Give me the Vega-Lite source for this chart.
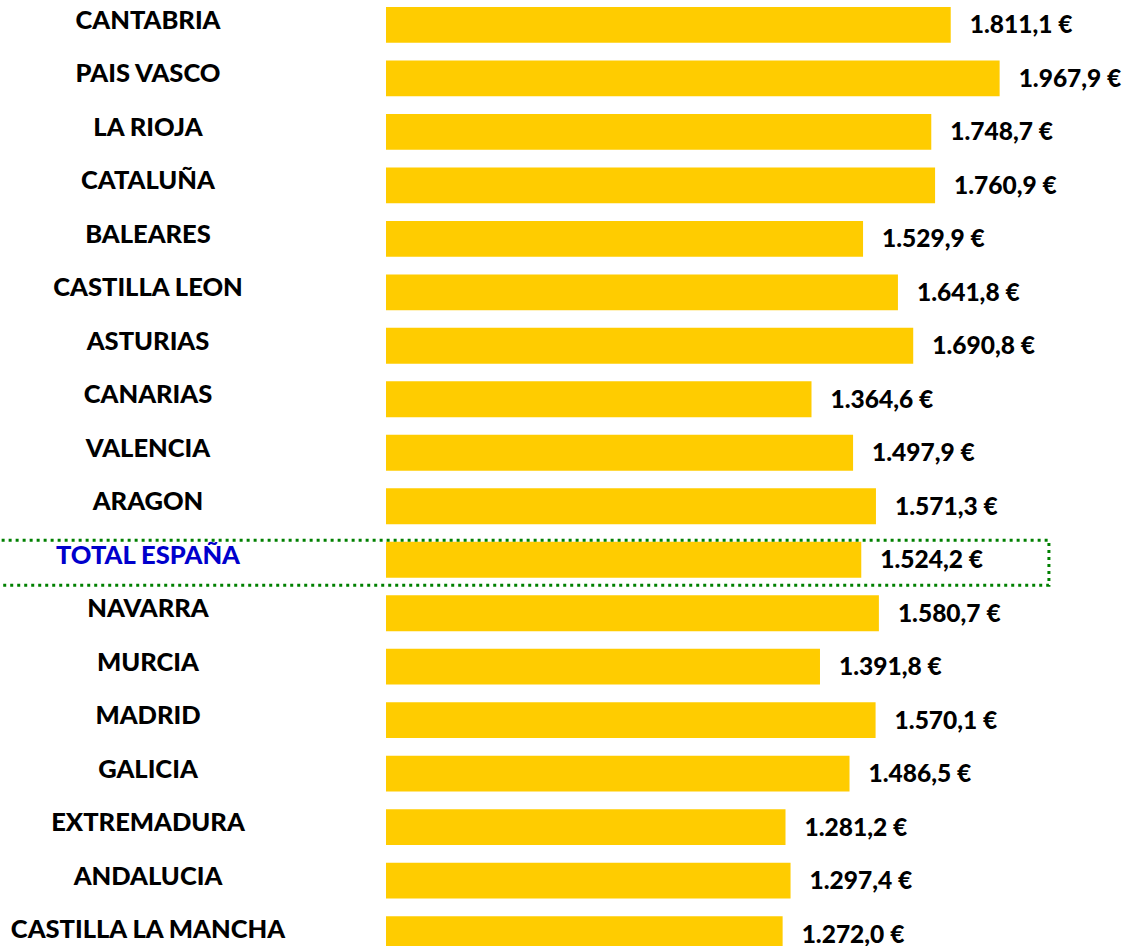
{
  "$schema": "https://vega.github.io/schema/vega-lite/v6.json",
  "autosize": {"type": "none"},
  "padding": {"left": 386, "top": 0, "right": 80, "bottom": 0},
  "width": 686,
  "height": 959,
  "background": "white",
  "config": {
    "view": {"stroke": null},
    "locale": {
      "number": {"decimal": ",", "thousands": ".", "grouping": [3], "currency": ["", " €"]}
    }
  },
  "data": {
    "values": [
      {"region": "CANTABRIA", "value": 1811.1},
      {"region": "PAIS VASCO", "value": 1967.9},
      {"region": "LA RIOJA", "value": 1748.7},
      {"region": "CATALUÑA", "value": 1760.9},
      {"region": "BALEARES", "value": 1529.9},
      {"region": "CASTILLA LEON", "value": 1641.8},
      {"region": "ASTURIAS", "value": 1690.8},
      {"region": "CANARIAS", "value": 1364.6},
      {"region": "VALENCIA", "value": 1497.9},
      {"region": "ARAGON", "value": 1571.3},
      {"region": "TOTAL ESPAÑA", "value": 1524.2},
      {"region": "NAVARRA", "value": 1580.7},
      {"region": "MURCIA", "value": 1391.8},
      {"region": "MADRID", "value": 1570.1},
      {"region": "GALICIA", "value": 1486.5},
      {"region": "EXTREMADURA", "value": 1281.2},
      {"region": "ANDALUCIA", "value": 1297.4},
      {"region": "CASTILLA LA MANCHA", "value": 1272.0}
    ]
  },
  "encoding": {
    "y": {
      "field": "region",
      "type": "nominal",
      "sort": null,
      "scale": {"paddingInner": 0.33, "paddingOuter": 0.13},
      "axis": {
        "title": null,
        "ticks": false,
        "domain": false,
        "labelPadding": 238.5,
        "labelAlign": "center",
        "labelBaseline": "middle",
        "labelOffset": -4,
        "labelLimit": 0,
        "labelFont": "Lato",
        "labelFontWeight": 900,
        "labelFontSize": 25.5,
        "labelColor": {"condition": {"test": "datum.value == 'TOTAL ESPAÑA'", "value": "#0000CC"}, "value": "#000000"}
      }
    }
  },
  "layer": [
    {
      "mark": {"type": "bar", "color": "#FFCC00"},
      "encoding": {
        "x": {"field": "value", "type": "quantitative", "scale": {"domain": [0, 2200], "nice": false, "zero": true}, "axis": null}
      }
    },
    {
      "mark": {"type": "text", "align": "left", "baseline": "middle", "dx": 19, "dy": 1.5, "font": "Lato", "fontWeight": 900, "fontSize": 24.5, "color": "#000000"},
      "encoding": {
        "x": {"field": "value", "type": "quantitative"},
        "text": {"field": "value", "type": "quantitative", "format": "$,.1f"}
      }
    },
    {
      "transform": [{"filter": "datum.region == 'TOTAL ESPAÑA'"}, {"calculate": "-1300", "as": "x0"}, {"calculate": "2126", "as": "x1"}],
      "mark": {"type": "rect", "fill": null, "fillOpacity": 0, "stroke": "#008000", "strokeWidth": 3, "strokeDash": [3, 4], "height": 45, "yOffset": 3},
      "encoding": {
        "x": {"field": "x0", "type": "quantitative"},
        "x2": {"field": "x1"}
      }
    }
  ]
}
